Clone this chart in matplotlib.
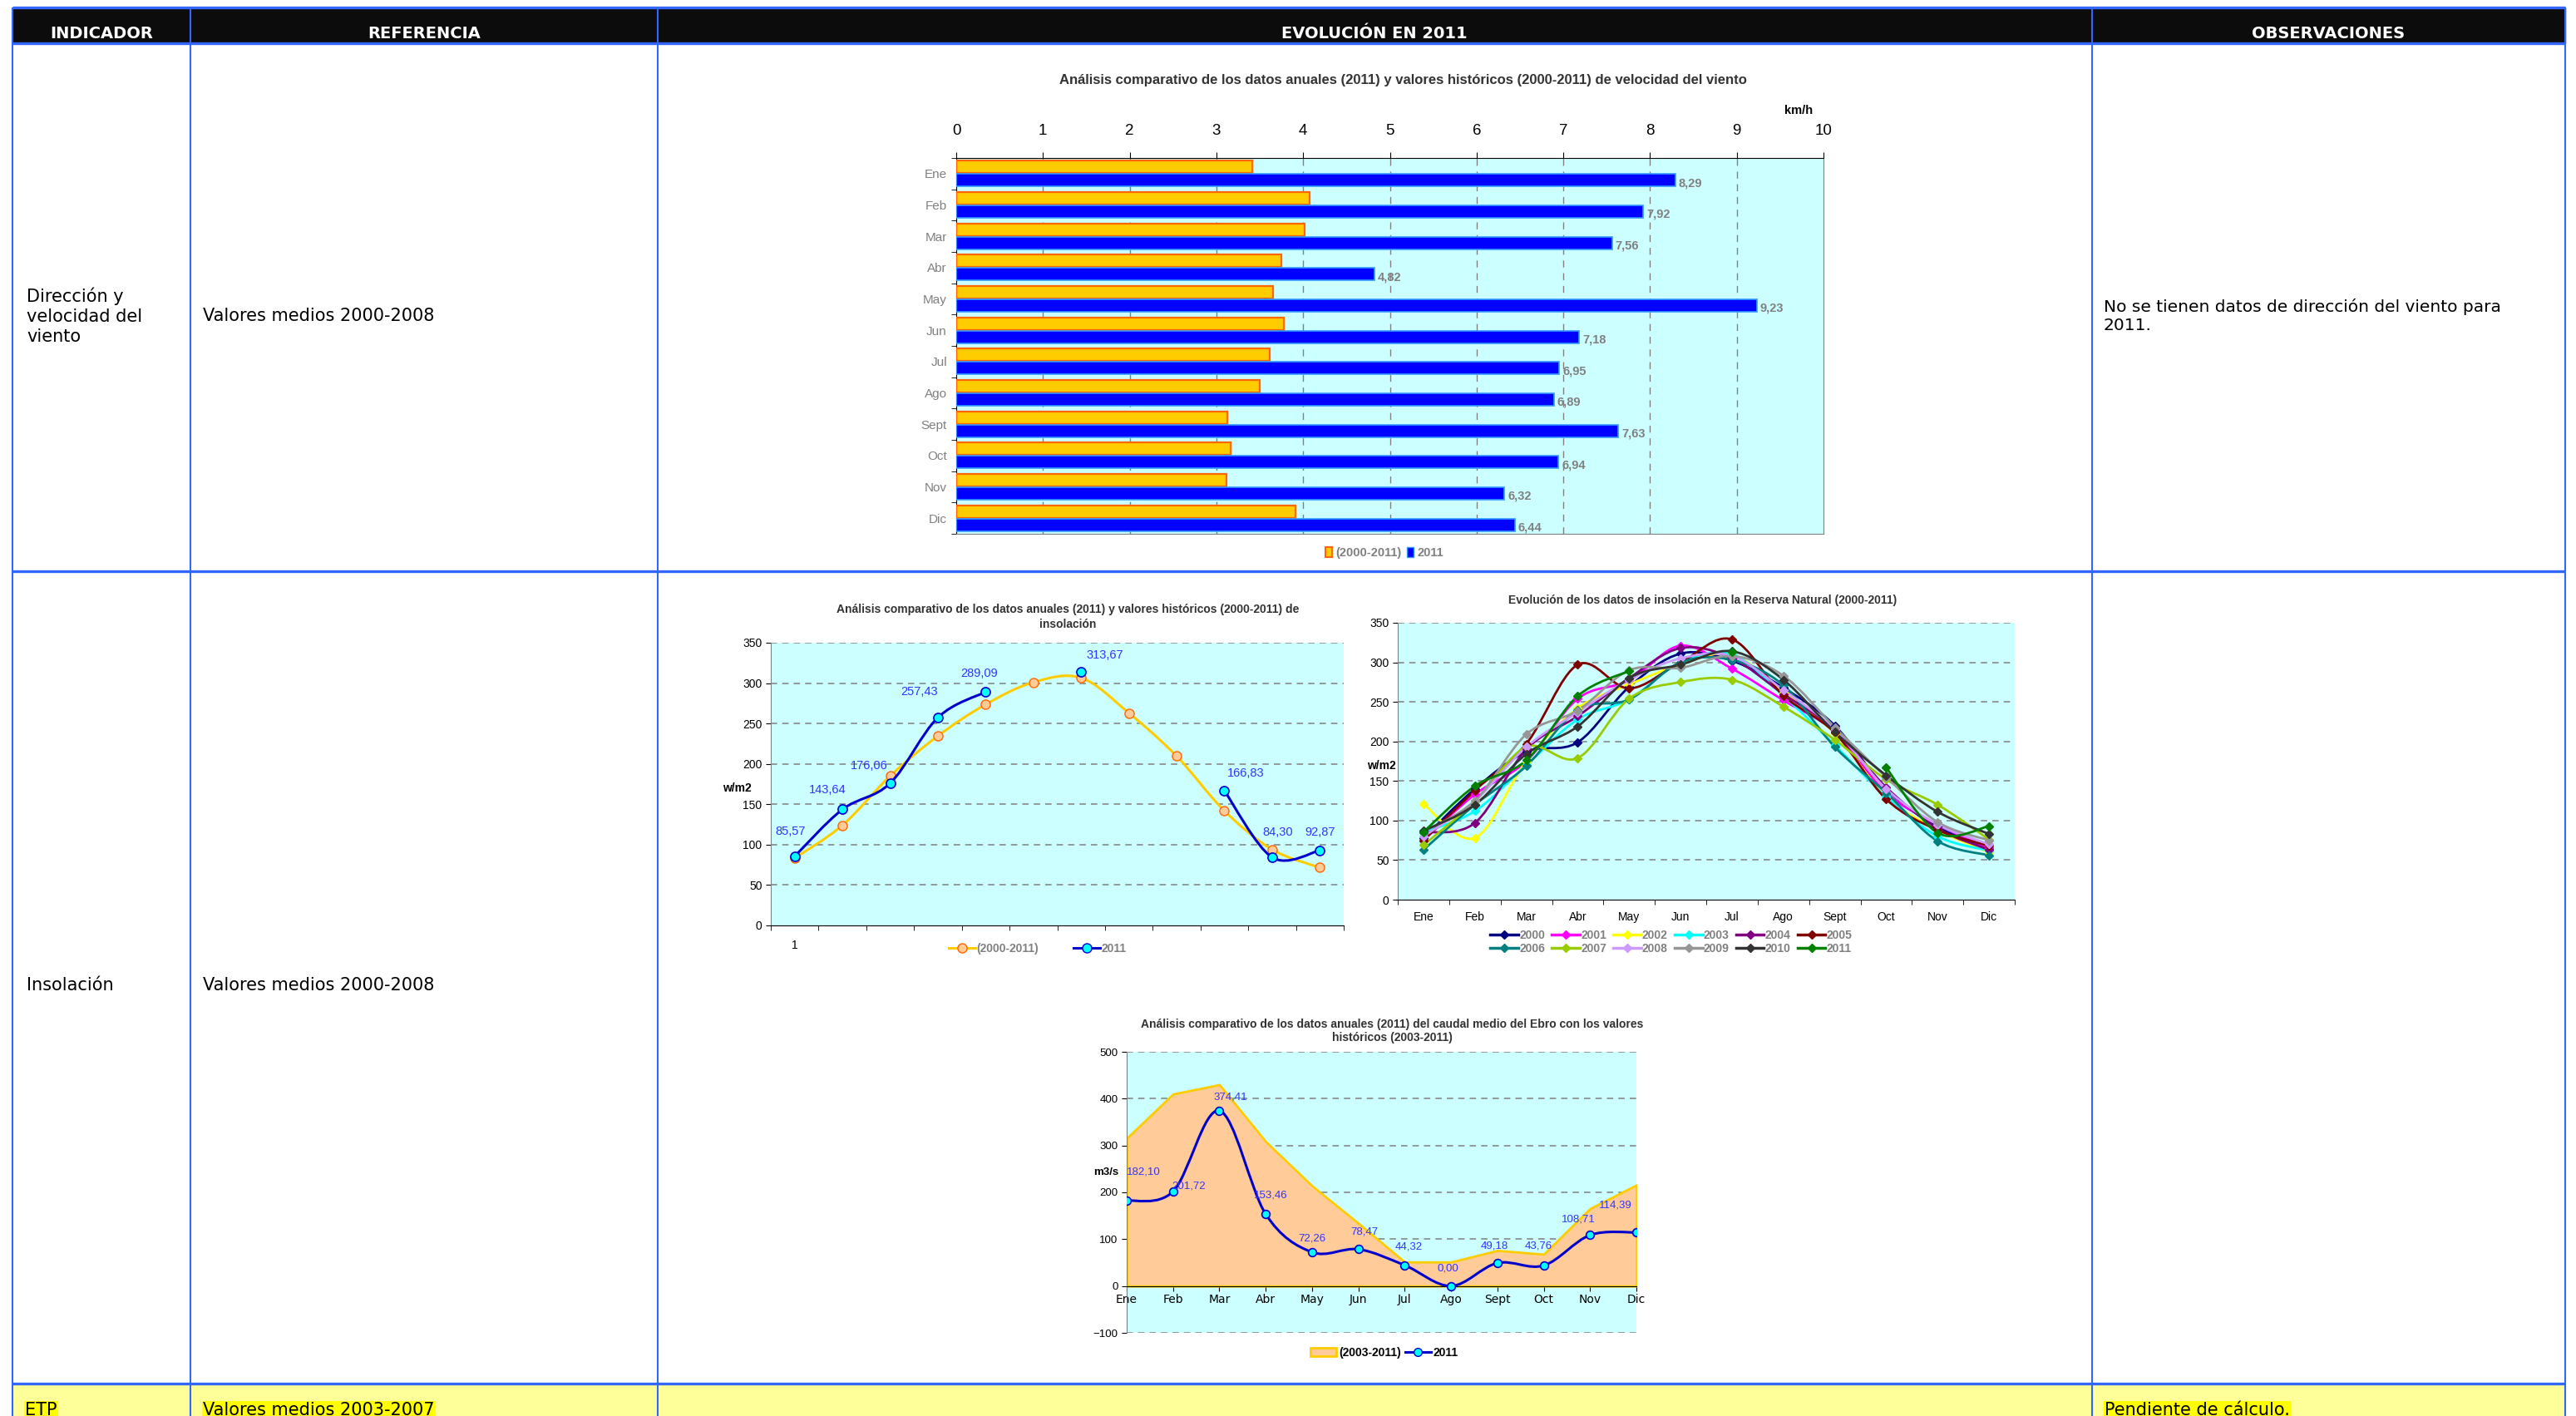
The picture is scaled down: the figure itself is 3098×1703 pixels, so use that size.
import numpy as np
import matplotlib
matplotlib.use('Agg')
import matplotlib.pyplot as plt
from matplotlib.path import Path
from matplotlib.patches import PathPatch, Rectangle
from matplotlib.lines import Line2D

W, H = 3098, 1703
nan = np.nan

meses = ['Ene', 'Feb', 'Mar', 'Abr', 'May', 'Jun', 'Jul', 'Ago', 'Sept', 'Oct', 'Nov', 'Dic']

# velocidad del viento (km/h)
viento_hist = [3.41, 4.07, 4.02, 3.75, 3.65, 3.78, 3.61, 3.50, 3.13, 3.16, 3.12, 3.91]
viento_2011 = [8.29, 7.92, 7.56, 4.82, 9.23, 7.18, 6.95, 6.89, 7.63, 6.94, 6.32, 6.44]

# insolacion media (w/m2)
insol_hist = [83.2, 124, 185, 234.6, 273.6, 301, 306.5, 263, 209.6, 142, 94, 71.6]
insol_2011 = [85.57, 143.64, 176.06, 257.43, 289.09, nan, 313.67, nan, nan, 166.83, 84.30, 92.87]

# insolacion por anio
ins_2000 = [78, 140, 187, 199, 269, 311, 302, 268, 220, 140, 92, 65]
ins_2001 = [75, 133, 175, 254, 277, 321, 292, 252, 212, 135, 95, 65]
ins_2002 = [121, 78, 175, 242, 272, 297, 310, 262, 210, 130, 88, 60]
ins_2003 = [85, 112, 170, 228, 253, 300, 310, 258, 195, 130, 80, 62]
ins_2004 = [85, 97, 190, 232, 280, 318, 305, 260, 215, 142, 90, 63]
ins_2005 = [75, 138, 197, 297, 267, 300, 329, 258, 211, 127, 88, 68]
ins_2006 = [63, 120, 169, 240, 253, 300, 303, 271, 193, 135, 74, 56]
ins_2007 = [69, 124, 193, 179, 254, 275, 278, 244, 202, 152, 120, 76]
ins_2008 = [80, 125, 193, 237, 278, 305, 308, 265, 215, 140, 95, 70]
ins_2009 = [86, 125, 209, 239, 290, 293, 308, 283, 218, 155, 98, 75]
ins_2010 = [87, 120, 184, 219, 280, 297, 314, 278, 212, 157, 111, 83]
ins_2011 = [85.57, 143.64, 176.06, 257.43, 289.09, nan, 313.67, nan, nan, 166.83, 84.30, 92.87]
anios = ['2000', '2001', '2002', '2003', '2004', '2005', '2006', '2007', '2008', '2009', '2010', '2011']

# caudal medio del Ebro (m3/s)
caudal_hist = [315.6, 410, 430, 308.5, 214, 134, 51.4, 51.4, 76, 68, 165.5, 215.7]
caudal_2011 = [182.10, 201.72, 374.41, 153.46, 72.26, 78.47, 44.32, 0.00, 49.18, 43.76, 108.71, 114.39]

CHART = 'Liberation Sans'
TABLA = 'DejaVu Sans'
cian = '#CCFFFF'
azul = '#3366FF'


def fxp(x):
    return x / W


def fyp(y):
    return 1 - y / H


def add_ax(l, t, r, b):
    return fig.add_axes([l / W, 1 - b / H, (r - l) / W, (b - t) / H])


def coma(v):
    return ('%.2f' % v).replace('.', ',')


def curva(ax, x, y, color, lw, z=3):
    # linea suavizada (bezier) como la de excel
    x = np.asarray(x, float)
    y = np.asarray(y, float)
    idx = np.where(~np.isnan(y))[0]
    tramos = np.split(idx, np.where(np.diff(idx) != 1)[0] + 1)
    for t in tramos:
        if len(t) < 2:
            continue
        px, py = x[t], y[t]
        n = len(px)
        verts = [(px[0], py[0])]
        codes = [Path.MOVETO]
        for i in range(n - 1):
            i0 = max(i - 1, 0)
            i3 = min(i + 2, n - 1)
            c1 = (px[i] + (px[i + 1] - px[i0]) / 6, py[i] + (py[i + 1] - py[i0]) / 6)
            c2 = (px[i + 1] - (px[i3] - px[i]) / 6, py[i + 1] - (py[i3] - py[i]) / 6)
            verts += [c1, c2, (px[i + 1], py[i + 1])]
            codes += [Path.CURVE4] * 3
        ax.add_patch(PathPatch(Path(verts, codes), fill=False, edgecolor=color, lw=lw,
                               zorder=z, joinstyle='round', capstyle='round'))


fig = plt.figure(figsize=(W / 100, H / 100), dpi=100)

# ---------------- tabla de fondo ----------------
bg = fig.add_axes([0, 0, 1, 1])
bg.set_xlim(0, W)
bg.set_ylim(H, 0)
bg.axis('off')
bg.add_patch(Rectangle((15, 9), 3085 - 15, 52 - 9, color='#0C0C0C', zorder=1))
bg.add_patch(Rectangle((15, 1664), 3085 - 15, H - 1664, color='#FFFF99', zorder=1))
for yy in [9, 52, 687, 1664]:
    bg.plot([15, 3085], [yy, yy], color=azul, lw=2.4, zorder=3, solid_capstyle='butt')
for xx in [15, 229, 791, 2516, 3085]:
    bg.plot([xx, xx], [9, H], color=azul, lw=1.5, zorder=3, solid_capstyle='butt')

cab = [('INDICADOR', 122), ('REFERENCIA', 510), ('EVOLUCIÓN EN 2011', 1653), ('OBSERVACIONES', 2800)]
for txt, xx in cab:
    bg.text(xx, 41, txt, color='white', fontsize=14, fontweight='bold', family=TABLA,
            ha='center', va='center', zorder=4)

bg.text(32, 380, 'Dirección y\nvelocidad del\nviento', fontsize=15, family=TABLA,
        va='center', ha='left', linespacing=1.25, zorder=4)
bg.text(244, 380, 'Valores medios 2000-2008', fontsize=15, family=TABLA, va='center', zorder=4)
bg.text(2530, 380, 'No se tienen datos de dirección del viento para\n2011.', fontsize=14.5,
        family=TABLA, va='center', linespacing=1.25, zorder=4)
bg.text(32, 1185, 'Insolación', fontsize=15, family=TABLA, va='center', zorder=4)
bg.text(244, 1185, 'Valores medios 2000-2008', fontsize=15, family=TABLA, va='center', zorder=4)
for txt, xx in [('ETP', 30), ('Valores medios 2003-2007', 244), ('Pendiente de cálculo.', 2531)]:
    bg.text(xx, 1686, txt, fontsize=15, family=TABLA, va='top', zorder=4,
            bbox=dict(boxstyle='square,pad=0.05', fc='#FFFF00', ec='none'))

# ---------------- viento ----------------
ax1 = add_ax(1150, 190, 2193, 642)
ax1.set_facecolor(cian)
y = np.arange(12)
ax1.barh(y - 0.21, viento_hist, height=0.4, color='#FFCC00', edgecolor='#FF6600', lw=1.6, zorder=3)
ax1.barh(y + 0.21, viento_2011, height=0.4, color='#0000FF', edgecolor='#3399FF', lw=1.2, zorder=3)
for i, v in enumerate(viento_2011):
    ax1.text(v + 0.04, y[i] + 0.3, coma(v), fontsize=10.5, color='#808080', fontweight='bold',
             family=CHART, va='center', ha='left', zorder=4)
ax1.set_xlim(0, 10)
ax1.set_ylim(11.5, -0.5)
ax1.xaxis.tick_top()
ax1.set_xticks(range(0, 11))
ax1.tick_params(axis='x', labelsize=13.5, length=5, pad=12, labelcolor='black')
for lab in ax1.get_xticklabels():
    lab.set_family(CHART)
ax1.set_yticks(y)
ax1.set_yticklabels(meses, family=CHART, fontsize=11, color='#808080')
ax1.set_yticks(np.arange(-0.5, 12), minor=True)
ax1.tick_params(axis='y', which='major', length=0, pad=8)
ax1.tick_params(axis='y', which='minor', length=4)
for gx in range(1, 10):
    ax1.axvline(gx, color='#808080', lw=1, ls=(0, (6, 5)), zorder=1)
ax1.spines['top'].set_color('black')
ax1.spines['left'].set_color('black')
ax1.spines['right'].set_color('#808080')
ax1.spines['bottom'].set_color('#808080')
fig.text(fxp(1687), fyp(97), 'Análisis comparativo de los datos anuales (2011) y valores históricos (2000-2011) de velocidad del viento',
         ha='center', va='center', fontsize=12, fontweight='bold', family=CHART, color='#333333')
fig.text(fxp(2163), fyp(133), 'km/h', ha='center', va='center', fontsize=10.5, fontweight='bold',
         family=CHART)
h1 = [Rectangle((0, 0), 1, 1, fc='#FFCC00', ec='#FF6600', lw=1.5),
      Rectangle((0, 0), 1, 1, fc='#0000FF', ec='#3399FF', lw=1)]
leg = ax1.legend(h1, ['(2000-2011)', '2011'], loc='center', bbox_to_anchor=(fxp(1665), fyp(665)),
                 bbox_transform=fig.transFigure, ncol=2, frameon=False, handlelength=0.6,
                 handleheight=0.9, columnspacing=0.4, handletextpad=0.3,
                 prop=dict(family=CHART, size=10.5, weight='bold'))
for t in leg.get_texts():
    t.set_color('#808080')

# ---------------- insolacion media ----------------
x = np.arange(12)
ax2 = add_ax(927, 773, 1616, 1113)
ax2.set_facecolor(cian)
ax2.set_xlim(-0.5, 11.5)
ax2.set_ylim(0, 350)
ax2.set_yticks(range(0, 351, 50))
for gy in range(50, 351, 50):
    ax2.axhline(gy, color='#808080', lw=1.1, ls=(0, (5, 4)), zorder=1)
curva(ax2, x, insol_hist, '#FFCC00', 2.2)
ax2.plot(x, insol_hist, 'o', ms=8, mfc='#FFCC99', mec='#FF6600', mew=1, zorder=4, ls='none')
curva(ax2, x, insol_2011, '#0000CC', 2.2, z=5)
ax2.plot(x, insol_2011, 'o', ms=8, mfc='#00FFFF', mec='#0000CC', mew=1.2, zorder=6, ls='none')
desp_ins = [(-5, 30), (-18, 23), (-25, 21), (-22, 31), (-8, 22), (0, 0), (29, 20), (0, 0),
            (0, 0), (26, 21), (7, 30), (0, 22)]
for i, v in enumerate(insol_2011):
    if np.isnan(v):
        continue
    ax2.annotate(coma(v), (x[i], v), xytext=(desp_ins[i][0] * 0.72, desp_ins[i][1] * 0.72),
                 textcoords='offset points', ha='center', va='center', fontsize=10.5,
                 color='#3333FF', family=CHART, zorder=7)
ax2.set_xticks([0])
ax2.set_xticklabels(['1'], family=CHART, fontsize=10)
ax2.set_xticks(np.arange(-0.5, 12), minor=True)
ax2.tick_params(axis='x', which='major', length=0, pad=12)
ax2.tick_params(axis='x', which='minor', length=4)
ax2.tick_params(axis='y', labelsize=10, length=4)
for lab in ax2.get_yticklabels():
    lab.set_family(CHART)
ax2.spines['top'].set_visible(False)
ax2.spines['right'].set_visible(False)
ax2.spines['left'].set_color('#808080')
ax2.spines['bottom'].set_color('black')
fig.text(fxp(1284), fyp(742), 'Análisis comparativo de los datos anuales (2011) y valores históricos (2000-2011) de\ninsolación',
         ha='center', va='center', fontsize=10, fontweight='bold', family=CHART, color='#333333',
         linespacing=1.3)
fig.text(fxp(886), fyp(948), 'w/m2', ha='center', va='center', fontsize=10, fontweight='bold',
         family=CHART)
h2 = [Line2D([], [], color='#FFCC00', lw=2.2, marker='o', ms=8, mfc='#FFCC99', mec='#FF6600'),
      Line2D([], [], color='#0000CC', lw=2.2, marker='o', ms=8, mfc='#00FFFF', mec='#0000CC')]
leg = ax2.legend(h2, ['(2000-2011)', '2011'], loc='center', bbox_to_anchor=(fxp(1248), fyp(1141)),
                 bbox_transform=fig.transFigure, ncol=2, frameon=False, handlelength=2.3,
                 columnspacing=3.0, handletextpad=0.1, prop=dict(family=CHART, size=10, weight='bold'))
for t in leg.get_texts():
    t.set_color('#808080')

# ---------------- insolacion por anio ----------------
series = [ins_2000, ins_2001, ins_2002, ins_2003, ins_2004, ins_2005,
          ins_2006, ins_2007, ins_2008, ins_2009, ins_2010, ins_2011]
colores = ['#000080', '#FF00FF', '#FFFF00', '#00FFFF', '#800080', '#800000',
           '#008080', '#99CC00', '#CC99FF', '#969696', '#333333', '#008000']
ax3 = add_ax(1681, 749, 2423, 1082)
ax3.set_facecolor(cian)
ax3.set_xlim(-0.5, 11.5)
ax3.set_ylim(0, 350)
ax3.set_yticks(range(0, 351, 50))
for gy in range(50, 351, 50):
    ax3.axhline(gy, color='#808080', lw=1.1, ls=(0, (5, 4)), zorder=1)
handles = []
for s, c in zip(series, colores):
    curva(ax3, x, s, c, 2.0)
    ax3.plot(x, s, 'D', ms=5, color=c, ls='none', zorder=4)
    handles.append(Line2D([], [], color=c, lw=2.5, marker='D', ms=5))
ax3.set_xticks(x)
ax3.set_xticklabels(meses, family=CHART, fontsize=10)
ax3.set_xticks(np.arange(-0.5, 12), minor=True)
ax3.tick_params(axis='x', which='major', length=0, pad=10)
ax3.tick_params(axis='x', which='minor', length=4)
ax3.tick_params(axis='y', labelsize=10, length=4)
for lab in ax3.get_yticklabels():
    lab.set_family(CHART)
ax3.spines['top'].set_visible(False)
ax3.spines['right'].set_visible(False)
ax3.spines['left'].set_color('#808080')
ax3.spines['bottom'].set_color('black')
fig.text(fxp(2048), fyp(722), 'Evolución de los datos de insolación en la Reserva Natural (2000-2011)',
         ha='center', va='center', fontsize=10, fontweight='bold', family=CHART, color='#333333')
fig.text(fxp(1661), fyp(921), 'w/m2', ha='center', va='center', fontsize=10, fontweight='bold',
         family=CHART)
orden = [0, 6, 1, 7, 2, 8, 3, 9, 4, 10, 5, 11]
leg = ax3.legend([handles[k] for k in orden], [anios[k] for k in orden], loc='center',
                 bbox_to_anchor=(fxp(2010), fyp(1133)), bbox_transform=fig.transFigure, ncol=6,
                 frameon=False, handlelength=2.4, columnspacing=0.6, handletextpad=0.1,
                 labelspacing=0.15, prop=dict(family=CHART, size=10, weight='bold'))
for t in leg.get_texts():
    t.set_color('#808080')

# ---------------- caudal del Ebro ----------------
ax4 = add_ax(1355, 1265, 1968, 1603)
ax4.set_facecolor(cian)
ax4.set_xlim(0, 11)
ax4.set_ylim(-100, 500)
ax4.set_yticks(range(-100, 501, 100))
for gy in range(-100, 501, 100):
    if gy != 0:
        ax4.axhline(gy, color='#808080', lw=1.1, ls=(0, (5, 4)), zorder=1)
ax4.fill_between(x, 0, caudal_hist, facecolor='#FFCC99', edgecolor='#FFCC00', lw=2, zorder=2)
curva(ax4, x, caudal_2011, '#0000CC', 2.2, z=4)
ax4.plot(x, caudal_2011, 'o', ms=7, mfc='#00FFFF', mec='#0000CC', mew=1.2, zorder=5, ls='none')
desp_cau = [(20, 35), (19, 7), (13, 16), (6, 23), (0, 16), (7, 21), (5, 22), (-4, 21),
            (-4, 20), (-6, 24), (-14, 19), (-25, 33)]
for i, v in enumerate(caudal_2011):
    ax4.annotate(coma(v), (x[i], v), xytext=(desp_cau[i][0] * 0.72, desp_cau[i][1] * 0.72),
                 textcoords='offset points', ha='center', va='center', fontsize=9.5,
                 color='#3333FF', family=CHART, zorder=6)
ax4.set_xticks(x)
ax4.set_xticklabels(meses, family=CHART, fontsize=10.5)
ax4.spines['bottom'].set_position(('data', 0))
ax4.spines['bottom'].set_color('black')
ax4.spines['bottom'].set_zorder(3)
ax4.tick_params(axis='x', length=4, pad=3)
ax4.tick_params(axis='y', labelsize=9.5, length=4)
for lab in ax4.get_yticklabels():
    lab.set_family(CHART)
ax4.spines['top'].set_visible(False)
ax4.spines['right'].set_visible(False)
ax4.spines['left'].set_color('#808080')
fig.text(fxp(1674), fyp(1240), 'Análisis comparativo de los datos anuales (2011) del caudal medio del Ebro con los valores\nhistóricos (2003-2011)',
         ha='center', va='center', fontsize=10, fontweight='bold', family=CHART, color='#333333',
         linespacing=1.2)
fig.text(fxp(1330), fyp(1410), 'm3/s', ha='center', va='center', fontsize=9.5, fontweight='bold',
         family=CHART)
h4 = [Rectangle((0, 0), 1, 1, fc='#FFCC99', ec='#FFCC00', lw=2),
      Line2D([], [], color='#0000CC', lw=2.2, marker='o', ms=7, mfc='#00FFFF', mec='#0000CC')]
ax4.legend(h4, ['(2003-2011)', '2011'], loc='center', bbox_to_anchor=(fxp(1665), fyp(1627)),
           bbox_transform=fig.transFigure, ncol=2, frameon=False, handlelength=2.2,
           columnspacing=0.4, handletextpad=0.2, prop=dict(family=CHART, size=10, weight='bold'))

fig.savefig('out.png', dpi=100)
